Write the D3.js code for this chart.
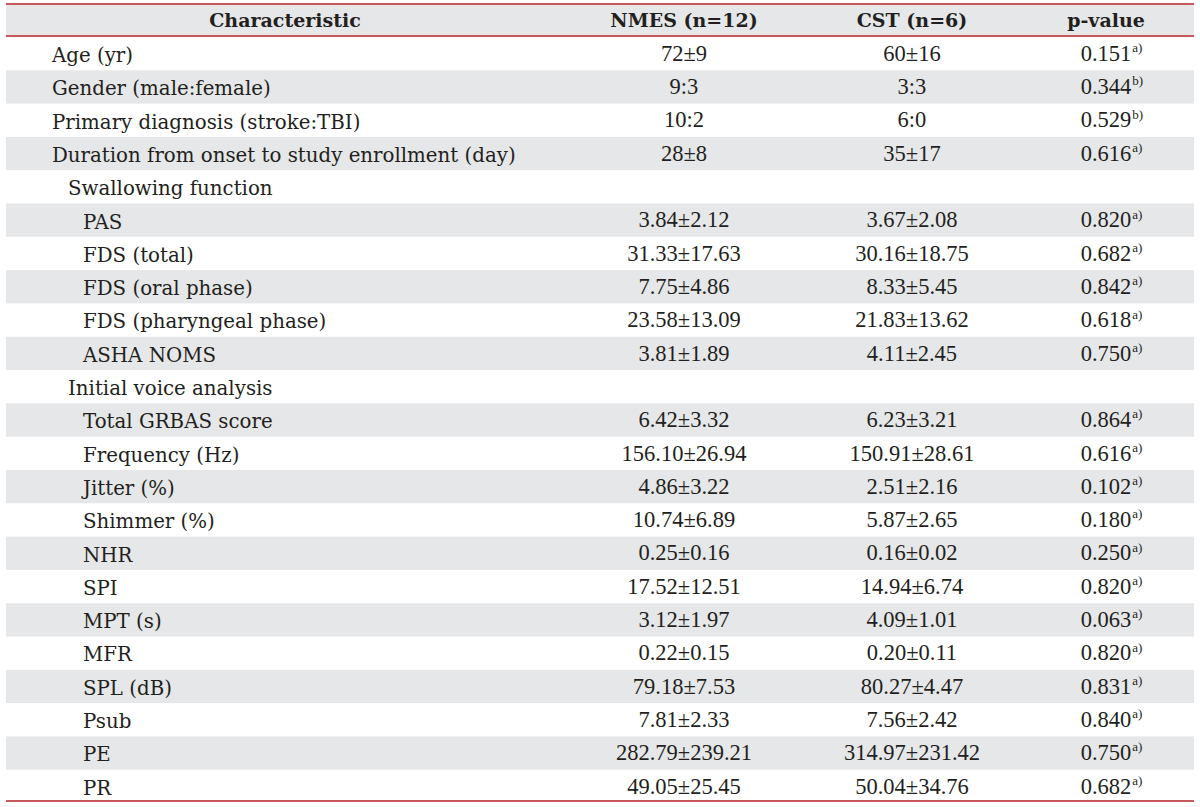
<!DOCTYPE html>
<html><head><meta charset="utf-8">
<script src="https://cdn.jsdelivr.net/npm/d3@7"></script>
<style>
html,body{margin:0;padding:0;background:#fff;}
svg{display:block;}
text{font-family:"DejaVu Serif","Liberation Serif",serif;fill:#231f20;}
text.num{font-family:"Liberation Serif","DejaVu Serif",serif;}
</style></head>
<body><svg id="chart" width="1200" height="807"></svg>
<script>
const headers = ["Characteristic", "NMES (n=12)", "CST (n=6)", "p-value"];
const characteristics = ["Age (yr)", "Gender (male:female)", "Primary diagnosis (stroke:TBI)", "Duration from onset to study enrollment (day)", "Swallowing function", "PAS", "FDS (total)", "FDS (oral phase)", "FDS (pharyngeal phase)", "ASHA NOMS", "Initial voice analysis", "Total GRBAS score", "Frequency (Hz)", "Jitter (%)", "Shimmer (%)", "NHR", "SPI", "MPT (s)", "MFR", "SPL (dB)", "Psub", "PE", "PR"];
const indentLevels = [0,0,0,0,1,2,2,2,2,2,1,2,2,2,2,2,2,2,2,2,2,2,2];
const nmesValues = ["72±9", "9:3", "10:2", "28±8", "", "3.84±2.12", "31.33±17.63", "7.75±4.86", "23.58±13.09", "3.81±1.89", "", "6.42±3.32", "156.10±26.94", "4.86±3.22", "10.74±6.89", "0.25±0.16", "17.52±12.51", "3.12±1.97", "0.22±0.15", "79.18±7.53", "7.81±2.33", "282.79±239.21", "49.05±25.45"];
const cstValues = ["60±16", "3:3", "6:0", "35±17", "", "3.67±2.08", "30.16±18.75", "8.33±5.45", "21.83±13.62", "4.11±2.45", "", "6.23±3.21", "150.91±28.61", "2.51±2.16", "5.87±2.65", "0.16±0.02", "14.94±6.74", "4.09±1.01", "0.20±0.11", "80.27±4.47", "7.56±2.42", "314.97±231.42", "50.04±34.76"];
const pValues = ["0.151", "0.344", "0.529", "0.616", "", "0.820", "0.682", "0.842", "0.618", "0.750", "", "0.864", "0.616", "0.102", "0.180", "0.250", "0.820", "0.063", "0.820", "0.831", "0.840", "0.750", "0.682"];
const pNotes = ["a)", "b)", "b)", "a)", "", "a)", "a)", "a)", "a)", "a)", "", "a)", "a)", "a)", "a)", "a)", "a)", "a)", "a)", "a)", "a)", "a)", "a)"];

(function(){
const svg = d3.select("#chart");
const left = 6, right = 1194, tableTop = 4, headBottom = 37, bottom = 803;
const headSize = 19, labelSize = 19.8, numSize = 22.5;
const red = "#c8585d", band = "#e6e7e8";

const y = d3.scaleBand().domain(d3.range(characteristics.length)).range([headBottom, bottom]).padding(0);
const colCenters = [285, 684, 912, 1106];
const indentX = d3.scaleOrdinal().domain([0,1,2]).range([52, 68, 83]);

svg.append("rect").attr("x", left).attr("y", tableTop).attr("width", right-left).attr("height", headBottom-tableTop).attr("fill", band);
svg.selectAll("rect.band").data(d3.range(characteristics.length).filter(i => i % 2 === 1))
  .join("rect").attr("class","band")
  .attr("x", left).attr("y", i => y(i)).attr("width", right-left).attr("height", y.bandwidth()).attr("fill", band);

[tableTop, headBottom - 1, bottom - 2].forEach(yy => {
  svg.append("line").attr("x1", left).attr("x2", right).attr("y1", yy).attr("y2", yy)
    .attr("stroke", red).attr("stroke-width", 2);
});

svg.selectAll("text.head").data(headers).join("text").attr("class","head")
  .attr("x", (d,i) => colCenters[i]).attr("y", (tableTop+headBottom)/2).attr("dy","0.35em")
  .attr("text-anchor","middle").attr("font-weight","bold").attr("font-size", headSize).text(d => d);

const rows = svg.selectAll("g.row").data(characteristics).join("g").attr("class","row")
  .attr("transform", (d,i) => `translate(0,${y(i) + y.bandwidth()/2})`);

rows.append("text").attr("x", (d,i) => indentX(indentLevels[i])).attr("dy","0.42em")
  .attr("font-size", labelSize).text(d => d);
rows.append("text").attr("class","num").attr("x", colCenters[1]).attr("dy","0.32em").attr("text-anchor","middle")
  .attr("font-size", numSize).text((d,i) => nmesValues[i]);
rows.append("text").attr("class","num").attr("x", colCenters[2]).attr("dy","0.32em").attr("text-anchor","middle")
  .attr("font-size", numSize).text((d,i) => cstValues[i]);
rows.each(function(d,i){
  if (!pValues[i]) return;
  const g = d3.select(this);
  const t = g.append("text").attr("class","num").attr("x", colCenters[3]).attr("dy","0.32em").attr("text-anchor","middle")
    .attr("font-size", numSize).text(pValues[i]);
  const w = t.node().getComputedTextLength();
  g.append("text").attr("class","num").attr("x", colCenters[3] + w/2 + 1).attr("dy","-0.12em")
    .attr("font-size", 13).text(pNotes[i]);
});
})();
</script></body></html>
